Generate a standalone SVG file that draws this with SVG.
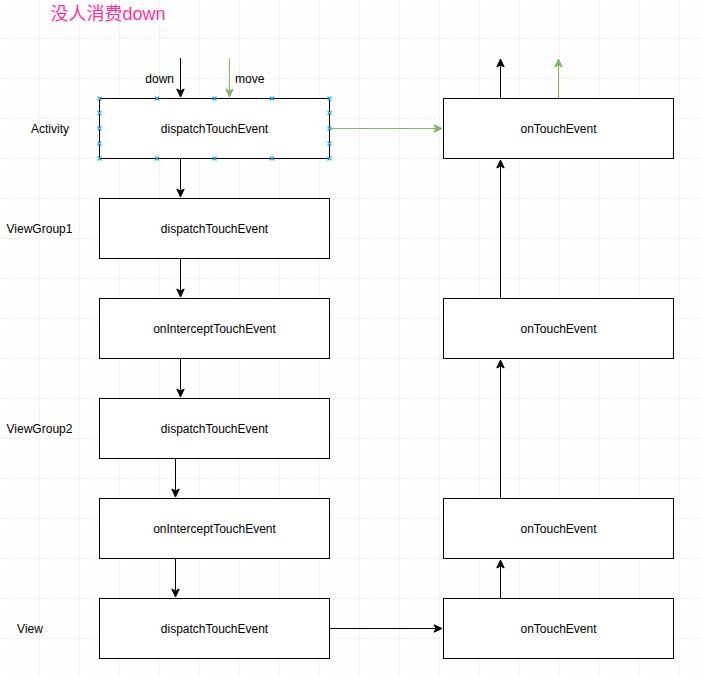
<svg xmlns="http://www.w3.org/2000/svg" width="702" height="675" viewBox="0 0 702 675">
<style>
.box{fill:#ffffff;stroke:#000000;stroke-width:1}
.t{font-family:"Liberation Sans",Arial,Helvetica,sans-serif;font-size:12px;fill:#000000}
.c{text-anchor:middle}
.e{stroke:#000000;stroke-width:1;fill:none;marker-end:url(#ab)}
.g{stroke:#82b366;stroke-width:1;fill:none;marker-end:url(#ag)}
.hx{stroke:#29b6f2;stroke-width:1.2;fill:none}
</style>
<defs>
<pattern id="grid" x="39" y="38" width="40" height="40" patternUnits="userSpaceOnUse">
<path d="M10.5,0V40M20.5,0V40M30.5,0V40M0,10.5H40M0,20.5H40M0,30.5H40" stroke="#fbfbfb" stroke-width="1" fill="none"/>
<path d="M0.5,0V40M0,0.5H40" stroke="#f3f3f3" stroke-width="1" fill="none"/>
</pattern>
<marker id="ab" markerUnits="userSpaceOnUse" markerWidth="10" markerHeight="10" refX="8" refY="4" orient="auto" overflow="visible">
<path d="M0,0.3L8,4L0,7.7L2,4Z" fill="#000000" stroke="#000000" stroke-width="1"/>
</marker>
<marker id="ag" markerUnits="userSpaceOnUse" markerWidth="10" markerHeight="10" refX="8" refY="4" orient="auto" overflow="visible">
<path d="M0,0.3L8,4L0,7.7L2,4Z" fill="#82b366" stroke="#82b366" stroke-width="1"/>
</marker>
</defs>
<rect width="702" height="675" fill="#ffffff"/>
<rect width="702" height="675" fill="url(#grid)"/>

<text x="50.5" y="19.5" font-family="'Liberation Sans','Noto Sans CJK SC',Arial,sans-serif" font-size="18" fill="#ff3399">没人消费down</text>

<g id="labels">
<text class="t c" x="50" y="132.5">Activity</text>
<text class="t c" x="39.5" y="232.5">ViewGroup1</text>
<text class="t c" x="39.5" y="432.5">ViewGroup2</text>
<text class="t c" x="30" y="632.5">View</text>
</g>

<g id="connectors">
<path class="e" d="M180.5,58V97"/>
<text class="t" x="174" y="82.5" text-anchor="end">down</text>
<path class="g" d="M229.5,58V97"/>
<text class="t" x="235" y="82.5">move</text>
<path class="e" d="M180.5,158.5V197"/>
<path class="e" d="M180.5,258.5V297"/>
<path class="e" d="M180.5,358.5V397"/>
<path class="e" d="M175.5,458.5V497"/>
<path class="e" d="M175.5,558.5V597"/>
<path class="e" d="M329.5,628.5H442"/>
<path class="e" d="M500.5,598.5V560"/>
<path class="e" d="M500.5,498.5V360"/>
<path class="e" d="M500.5,298.5V160"/>
<path class="e" d="M500.5,98.5V59"/>
<path class="g" d="M558.5,98.5V59"/>
<path class="g" d="M329.5,128.5H442"/>
</g>

<g id="activity-dispatch">
<rect class="box" x="99.5" y="98.5" width="230" height="60"/>
<text class="t c" x="214.5" y="132.5">dispatchTouchEvent</text>
</g>
<g id="activity-handles" class="hx">
<path d="M97.5,96.5l4,4m0,-4l-4,4 M155,96.5l4,4m0,-4l-4,4 M212.5,96.5l4,4m0,-4l-4,4 M270,96.5l4,4m0,-4l-4,4 M327.5,96.5l4,4m0,-4l-4,4"/>
<path d="M97.5,156.5l4,4m0,-4l-4,4 M155,156.5l4,4m0,-4l-4,4 M212.5,156.5l4,4m0,-4l-4,4 M270,156.5l4,4m0,-4l-4,4 M327.5,156.5l4,4m0,-4l-4,4"/>
<path d="M97.5,111l4,4m0,-4l-4,4 M97.5,126.5l4,4m0,-4l-4,4 M97.5,141.5l4,4m0,-4l-4,4"/>
<path d="M327.5,111l4,4m0,-4l-4,4 M327.5,126.5l4,4m0,-4l-4,4 M327.5,141.5l4,4m0,-4l-4,4"/>
</g>
<g id="vg1-dispatch">
<rect class="box" x="99.5" y="198.5" width="230" height="60"/>
<text class="t c" x="214.5" y="232.5">dispatchTouchEvent</text>
</g>
<g id="vg1-intercept">
<rect class="box" x="99.5" y="298.5" width="230" height="60"/>
<text class="t c" x="214.5" y="332.5">onInterceptTouchEvent</text>
</g>
<g id="vg2-dispatch">
<rect class="box" x="99.5" y="398.5" width="230" height="60"/>
<text class="t c" x="214.5" y="432.5">dispatchTouchEvent</text>
</g>
<g id="vg2-intercept">
<rect class="box" x="99.5" y="498.5" width="230" height="60"/>
<text class="t c" x="214.5" y="532.5">onInterceptTouchEvent</text>
</g>
<g id="view-dispatch">
<rect class="box" x="99.5" y="598.5" width="230" height="60"/>
<text class="t c" x="214.5" y="632.5">dispatchTouchEvent</text>
</g>
<g id="activity-touch">
<rect class="box" x="443.5" y="98.5" width="230" height="60"/>
<text class="t c" x="558.5" y="132.5">onTouchEvent</text>
</g>
<g id="vg1-touch">
<rect class="box" x="443.5" y="298.5" width="230" height="60"/>
<text class="t c" x="558.5" y="332.5">onTouchEvent</text>
</g>
<g id="vg2-touch">
<rect class="box" x="443.5" y="498.5" width="230" height="60"/>
<text class="t c" x="558.5" y="532.5">onTouchEvent</text>
</g>
<g id="view-touch">
<rect class="box" x="443.5" y="598.5" width="230" height="60"/>
<text class="t c" x="558.5" y="632.5">onTouchEvent</text>
</g>
</svg>
